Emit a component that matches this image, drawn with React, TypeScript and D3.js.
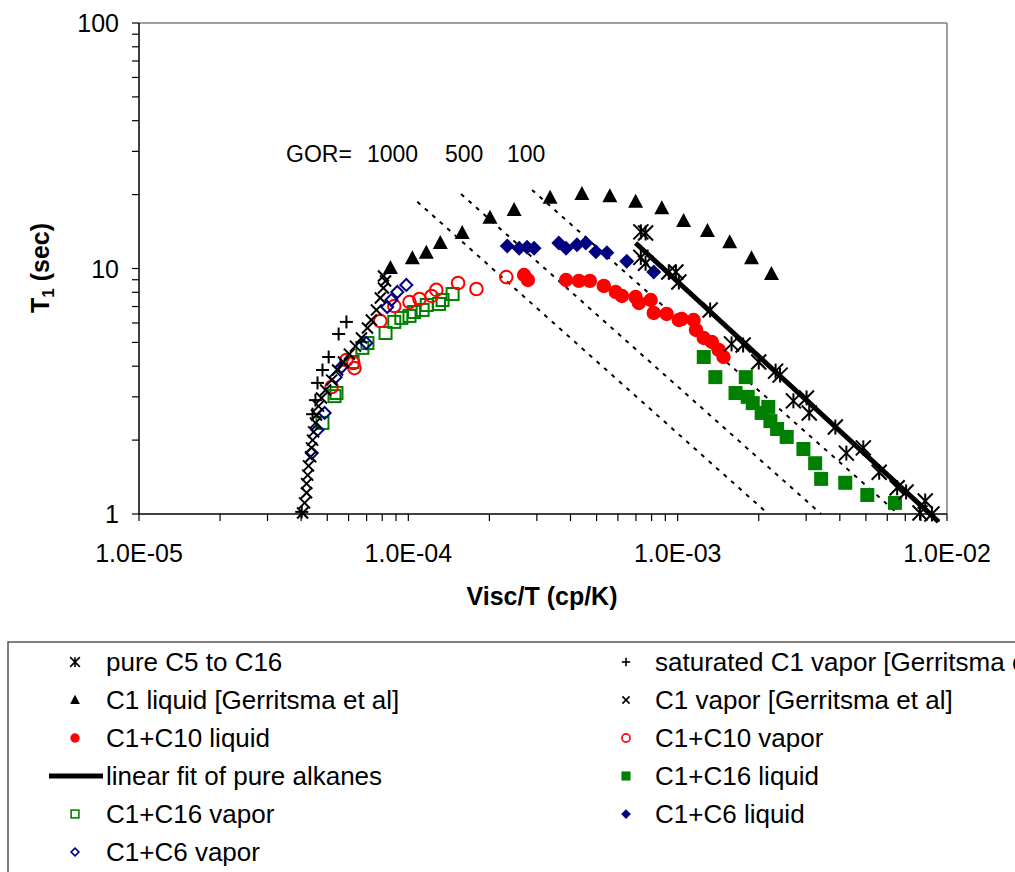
import React from "react";
import * as d3 from "d3";

type Pt = [number, number];

const xTickLabels = ["1.0E-05", "1.0E-04", "1.0E-03", "1.0E-02"];
const xTickValues = [1e-5, 1e-4, 1e-3, 1e-2];
const yTickLabels = ["1", "10", "100"];
const yTickValues = [1, 10, 100];

const pureAlkanes: Pt[] = [
  [7.3e-4, 14.1], [7.6e-4, 13.95], [7.3e-4, 11.1], [7.6e-4, 10.5], [9.27e-4, 9.67], [9.85e-4, 9.67],
  [1.01e-3, 8.81], [1.32e-3, 6.78], [1.585e-3, 4.93], [1.75e-3, 4.88], [2.0e-3, 4.16], [2.31e-3, 3.82],
  [2.4e-3, 3.68], [2.69e-3, 2.89], [3.01e-3, 2.97], [3.08e-3, 2.58], [3.85e-3, 2.26], [4.23e-3, 1.77],
  [4.89e-3, 1.86], [5.6e-3, 1.48], [6.53e-3, 1.28], [7.05e-3, 1.23], [8.3e-3, 1.13], [7.94e-3, 1.01], [8.79e-3, 1.0],
];

const satC1Vapor: Pt[] = [
  [5.89e-5, 6.06], [5.51e-5, 5.41], [5.06e-5, 4.36], [4.8e-5, 3.86], [4.6e-5, 3.42], [4.52e-5, 2.91],
  [4.41e-5, 2.55], [4.02e-5, 1.02],
];

const c1Liquid: Pt[] = [
  [8.58e-5, 10.05], [1.035e-4, 11.0], [1.166e-4, 11.6], [1.314e-4, 12.7], [1.585e-4, 13.95], [2.01e-4, 16.1],
  [2.47e-4, 17.3], [3.36e-4, 19.4], [4.41e-4, 20.1], [5.6e-4, 19.7], [6.98e-4, 18.7], [8.73e-4, 17.6],
  [1.052e-3, 15.6], [1.29e-3, 14.2], [1.56e-3, 12.8], [1.88e-3, 11.0], [2.23e-3, 9.5],
];

const c1Vapor: Pt[] = [
  [4.05e-5, 1.01], [4.12e-5, 1.11], [4.19e-5, 1.22], [4.19e-5, 1.33], [4.23e-5, 1.44], [4.26e-5, 1.57],
  [4.34e-5, 1.71], [4.37e-5, 1.86], [4.41e-5, 2.0], [4.45e-5, 2.16], [4.52e-5, 2.35], [4.56e-5, 2.53],
  [4.64e-5, 2.75], [4.76e-5, 2.97], [4.93e-5, 3.2], [5.19e-5, 3.51], [5.46e-5, 3.86], [5.74e-5, 4.16],
  [6.04e-5, 4.48], [6.36e-5, 4.83], [6.7e-5, 5.21], [7.05e-5, 5.72], [7.29e-5, 6.17], [7.61e-5, 6.78],
  [7.87e-5, 7.58], [8.08e-5, 8.33], [8.23e-5, 8.9], [8.08e-5, 9.32],
];

const c10Liquid: Pt[] = [
  [2.69e-4, 9.41], [2.78e-4, 8.98], [3.85e-4, 8.98], [4.3e-4, 8.9], [4.72e-4, 8.9], [5.32e-4, 8.49],
  [5.89e-4, 8.02], [6.21e-4, 7.73], [6.98e-4, 7.65], [7.18e-4, 7.24], [7.94e-4, 7.44], [8.15e-4, 6.59],
  [9.1e-4, 6.53], [1.01e-3, 6.17], [1.035e-3, 6.23], [1.146e-3, 6.17], [1.17e-3, 5.62], [1.25e-3, 5.21],
  [1.34e-3, 5.02], [1.42e-3, 4.66], [1.48e-3, 4.36],
];

const c10Vapor: Pt[] = [
  [2.31e-4, 9.23], [1.79e-4, 8.25], [1.53e-4, 8.73], [1.27e-4, 8.18], [1.22e-4, 7.73], [1.1e-4, 7.51],
  [1.01e-4, 7.3], [8.87e-5, 7.03], [7.87e-5, 6.11], [6.25e-5, 4.12], [5.89e-5, 4.24], [6.31e-5, 3.93],
  [5.19e-5, 3.29],
];

const c16Liquid: Pt[] = [
  [1.25e-3, 4.36], [1.38e-3, 3.61], [1.79e-3, 3.61], [1.64e-3, 3.11], [1.82e-3, 3.0], [1.9e-3, 2.83],
  [2.05e-3, 2.58], [2.17e-3, 2.73], [2.21e-3, 2.39], [2.34e-3, 2.22], [2.54e-3, 2.06], [2.93e-3, 1.84],
  [3.24e-3, 1.61], [3.41e-3, 1.39], [4.19e-3, 1.34], [5.06e-3, 1.195], [6.41e-3, 1.11],
];

const c16Vapor: Pt[] = [
  [1.46e-4, 7.87], [1.34e-4, 7.44], [1.3e-4, 7.17], [1.17e-4, 7.1], [1.13e-4, 6.78], [1.05e-4, 6.65],
  [1.01e-4, 6.41], [9.42e-5, 6.29], [8.87e-5, 6.06], [8.23e-5, 5.46], [7.05e-5, 4.97], [6.75e-5, 4.75],
  [6.21e-5, 4.16], [5.41e-5, 3.11], [5.32e-5, 3.02], [4.8e-5, 2.35],
];

const c6Liquid: Pt[] = [
  [2.33e-4, 12.35], [2.58e-4, 12.1], [2.76e-4, 12.2], [2.93e-4, 12.1], [3.62e-4, 12.7], [3.85e-4, 12.1],
  [4.23e-4, 12.5], [4.56e-4, 12.7], [4.97e-4, 11.7], [5.46e-4, 11.6], [6.47e-4, 10.7], [8.15e-4, 9.67],
];

const c6Vapor: Pt[] = [
  [9.83e-5, 8.57], [9.1e-5, 8.02], [8.65e-5, 7.44], [8.35e-5, 6.97], [6.98e-5, 4.97], [5.65e-5, 3.97],
  [5.37e-5, 3.61], [4.89e-5, 2.58], [4.6e-5, 2.2], [4.38e-5, 1.77],
];

const linearFit: Pt[] = [[6.98e-4, 12.7], [9.3e-3, 0.93]];

const gorLabels = ["1000", "500", "100"];
const gor1000: Pt[] = [[1.08e-4, 18.7], [2.17e-3, 1.0]];
const gor500: Pt[] = [[1.57e-4, 20.1], [3.41e-3, 1.0]];
const gor100: Pt[] = [[2.88e-4, 20.9], [6.59e-3, 1.0]];

const FONT = "'Liberation Sans', Arial, sans-serif";
const RED = "#FF0000";
const GREEN = "#008000";
const NAVY = "#000080";

type MarkerKind =
  | "asterisk" | "plus" | "cross" | "triangle" | "circleFilled" | "circleOpen"
  | "squareFilled" | "squareOpen" | "diamondFilled" | "diamondOpen";

function Marker({ kind, x, y, color, s = 1, sw = 2 }: { kind: MarkerKind; x: number; y: number; color: string; s?: number; sw?: number }) {
  const t = `translate(${x},${y})`;
  switch (kind) {
    case "asterisk": {
      const h = 7.5 * s;
      return (
        <g transform={t} stroke={color} strokeWidth={sw} fill="none">
          <line x1={-h} y1={-h} x2={h} y2={h} />
          <line x1={-h} y1={h} x2={h} y2={-h} />
          <line x1={0} y1={-h} x2={0} y2={h} />
        </g>
      );
    }
    case "plus": {
      const h = 6.5 * s;
      return (
        <g transform={t} stroke={color} strokeWidth={sw} fill="none">
          <line x1={-h} y1={0} x2={h} y2={0} />
          <line x1={0} y1={-h} x2={0} y2={h} />
        </g>
      );
    }
    case "cross": {
      const h = 5.5 * s;
      return (
        <g transform={t} stroke={color} strokeWidth={sw} fill="none">
          <line x1={-h} y1={-h} x2={h} y2={h} />
          <line x1={-h} y1={h} x2={h} y2={-h} />
        </g>
      );
    }
    case "triangle": {
      const w = 7.5 * s;
      return <path transform={t} d={`M0,${-8 * s}L${w},${6 * s}L${-w},${6 * s}Z`} fill={color} />;
    }
    case "circleFilled":
      return <circle cx={x} cy={y} r={7.2 * s} fill={color} />;
    case "circleOpen":
      return <circle cx={x} cy={y} r={6.3 * s} fill="none" stroke={color} strokeWidth={sw} />;
    case "squareFilled":
      return <rect x={x - 7 * s} y={y - 7 * s} width={14 * s} height={14 * s} fill={color} />;
    case "squareOpen":
      return <rect x={x - 6 * s} y={y - 6 * s} width={12 * s} height={12 * s} fill="none" stroke={color} strokeWidth={sw} />;
    case "diamondFilled": {
      const h = 7.5 * s;
      return <path transform={t} d={`M0,${-h}L${h},0L0,${h}L${-h},0Z`} fill={color} />;
    }
    case "diamondOpen": {
      const h = 6 * s;
      return <path transform={t} d={`M0,${-h}L${h},0L0,${h}L${-h},0Z`} fill="none" stroke={color} strokeWidth={sw} />;
    }
  }
  return null;
}

export default function App() {
  const left = 139, right = 947, top = 23, bottom = 514;
  const x = d3.scaleLog().domain([1e-5, 1e-2]).range([left, right]);
  const y = d3.scaleLog().domain([1, 100]).range([bottom, top]);
  const line = d3.line<Pt>().x((d) => x(d[0])).y((d) => y(d[1]));

  const xMinor: number[] = [];
  for (let e = -5; e < -2; e++) for (let m = 1; m <= 9; m++) xMinor.push(m * Math.pow(10, e));
  xMinor.push(1e-2);
  const yMinor: number[] = [];
  for (let e = 0; e < 2; e++) for (let m = 1; m <= 9; m++) yMinor.push(m * Math.pow(10, e));
  yMinor.push(100);

  const series: { data: Pt[]; kind: MarkerKind; color: string }[] = [
    { data: c16Vapor, kind: "squareOpen", color: GREEN },
    { data: c10Vapor, kind: "circleOpen", color: RED },
    { data: c6Vapor, kind: "diamondOpen", color: NAVY },
    { data: satC1Vapor, kind: "plus", color: "#000" },
    { data: c1Vapor, kind: "cross", color: "#000" },
    { data: c1Liquid, kind: "triangle", color: "#000" },
    { data: c6Liquid, kind: "diamondFilled", color: NAVY },
    { data: c10Liquid, kind: "circleFilled", color: RED },
    { data: c16Liquid, kind: "squareFilled", color: GREEN },
    { data: pureAlkanes, kind: "asterisk", color: "#000" },
  ];

  const legendRows: { label: string; kind: MarkerKind | "line"; color: string; col: number; row: number }[] = [
    { label: "pure C5 to C16", kind: "asterisk", color: "#000", col: 0, row: 0 },
    { label: "saturated C1 vapor [Gerritsma et al]", kind: "plus", color: "#000", col: 1, row: 0 },
    { label: "C1 liquid [Gerritsma et al]", kind: "triangle", color: "#000", col: 0, row: 1 },
    { label: "C1 vapor [Gerritsma et al]", kind: "cross", color: "#000", col: 1, row: 1 },
    { label: "C1+C10 liquid", kind: "circleFilled", color: RED, col: 0, row: 2 },
    { label: "C1+C10 vapor", kind: "circleOpen", color: RED, col: 1, row: 2 },
    { label: "linear fit of pure alkanes", kind: "line", color: "#000", col: 0, row: 3 },
    { label: "C1+C16 liquid", kind: "squareFilled", color: GREEN, col: 1, row: 3 },
    { label: "C1+C16 vapor", kind: "squareOpen", color: GREEN, col: 0, row: 4 },
    { label: "C1+C6 liquid", kind: "diamondFilled", color: NAVY, col: 1, row: 4 },
    { label: "C1+C6 vapor", kind: "diamondOpen", color: NAVY, col: 0, row: 5 },
  ];
  const rowY = [662, 700, 738, 776, 814, 852];
  const colMarkerX = [75, 626];
  const colTextX = [106, 655];

  return (
    <svg width={1015} height={872} style={{ position: "absolute", left: 0, top: 0, background: "#fff" }} fontFamily={FONT}>
      <rect x={0} y={0} width={1015} height={872} fill="#fff" />
      {/* frame */}
      <line x1={left} y1={top} x2={right} y2={top} stroke="#808080" strokeWidth={1.5} />
      <line x1={right} y1={top} x2={right} y2={bottom} stroke="#808080" strokeWidth={1.5} />
      <line x1={left} y1={top} x2={left} y2={bottom} stroke="#000" strokeWidth={1.5} />
      <line x1={left} y1={bottom} x2={right} y2={bottom} stroke="#000" strokeWidth={1.5} />
      {xMinor.map((v, i) => (
        <line key={"xm" + i} x1={x(v)} x2={x(v)} y1={bottom} y2={bottom + 7} stroke="#000" strokeWidth={1.2} />
      ))}
      {yMinor.map((v, i) => (
        <line key={"ym" + i} x1={left - 7} x2={left} y1={y(v)} y2={y(v)} stroke="#000" strokeWidth={1.2} />
      ))}
      {xTickValues.map((v, i) => (
        <text key={"xt" + i} x={x(v)} y={562} fontSize={25} textAnchor="middle" fill="#000">{xTickLabels[i]}</text>
      ))}
      {yTickValues.map((v, i) => (
        <text key={"yt" + i} x={119} y={y(v) + 9} fontSize={25} textAnchor="end" fill="#000">{yTickLabels[i]}</text>
      ))}
      <text x={542} y={605} fontSize={25} fontWeight="bold" textAnchor="middle">Visc/T (cp/K)</text>
      <text transform="translate(49,268) rotate(-90)" fontSize={25} fontWeight="bold" textAnchor="middle">
        T<tspan fontSize={17} dy={5}>1</tspan><tspan dy={-5}> (sec)</tspan>
      </text>

      {/* GOR lines */}
      {[gor1000, gor500, gor100].map((d, i) => (
        <path key={"gor" + i} d={line(d) || ""} fill="none" stroke="#000" strokeWidth={2} strokeDasharray="4,6" />
      ))}
      <text x={286} y={162} fontSize={23} fill="#000">GOR=</text>
      <text x={367} y={162} fontSize={23} fill="#000">{gorLabels[0]}</text>
      <text x={445} y={162} fontSize={23} fill="#000">{gorLabels[1]}</text>
      <text x={507} y={162} fontSize={23} fill="#000">{gorLabels[2]}</text>

      {series.map((s, si) =>
        s.data.map((d, i) => <Marker key={si + "-" + i} kind={s.kind} x={x(d[0])} y={y(d[1])} color={s.color} />)
      )}
      <path d={line(linearFit) || ""} fill="none" stroke="#000" strokeWidth={5} />

      {/* legend */}
      <rect x={8} y={642} width={1100} height={300} fill="#fff" stroke="#555" strokeWidth={1.5} />
      {legendRows.map((r, i) => (
        <g key={"lg" + i}>
          {r.kind === "line" ? (
            <line x1={49} x2={103} y1={rowY[r.row]} y2={rowY[r.row]} stroke="#000" strokeWidth={5} />
          ) : (
            <Marker kind={r.kind} x={colMarkerX[r.col]} y={rowY[r.row]} color={r.color} s={0.65} sw={1.6} />
          )}
          <text x={colTextX[r.col]} y={rowY[r.row] + 9} fontSize={26} fill="#000">{r.label}</text>
        </g>
      ))}
    </svg>
  );
}
